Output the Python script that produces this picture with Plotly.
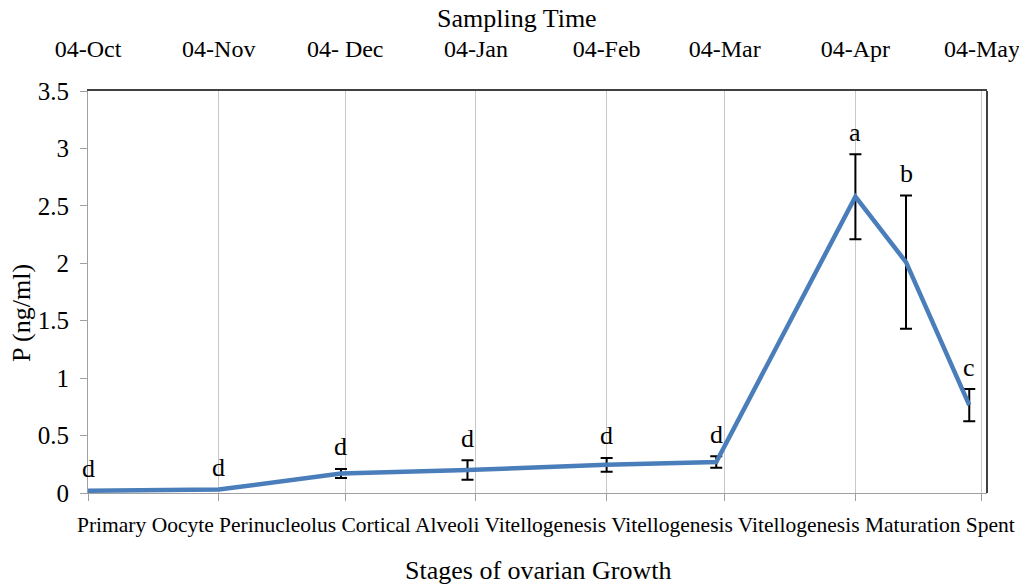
import plotly.graph_objects as go

# ---- data ----
sample_dates = ['2010-10-04', '2010-11-04', '2010-12-03', '2011-01-02', '2011-02-04',
                '2011-03-02', '2011-04-04', '2011-04-16', '2011-05-01']
p_values = [0.02, 0.03, 0.17, 0.20, 0.245, 0.27, 2.58, 2.01, 0.765]
p_errors = [0.005, 0.0, 0.04, 0.085, 0.06, 0.05, 0.37, 0.58, 0.14]
sig_letters = ['d', 'd', 'd', 'd', 'd', 'd', 'a', 'b', 'c']

month_ticks = ['2010-10-04', '2010-11-04', '2010-12-04', '2011-01-04', '2011-02-04',
               '2011-03-04', '2011-04-04', '2011-05-04']
month_labels = ['04-Oct', '04-Nov', '04- Dec', '04-Jan', '04-Feb', '04-Mar', '04-Apr', '04-May']
stage_labels = ['Primary Oocyte', 'Perinucleolus', 'Cortical Alveoli', 'Vitellogenesis',
                'Vitellogenesis', 'Vitellogenesis', 'Maturation', 'Spent']

FONT = 'Liberation Serif, Times New Roman, serif'
x_range = ['2010-10-04', '2011-05-05 05:00']

fig = go.Figure()
fig.add_trace(go.Scatter(
    x=sample_dates, y=p_values, mode='lines',
    line=dict(color='#4a7ebb', width=4.5),
    error_y=dict(type='data', array=p_errors, visible=True, color='black',
                 thickness=2, width=6),
    showlegend=False, hoverinfo='x+y'))
# invisible trace so the top date axis is drawn
fig.add_trace(go.Scatter(
    x=sample_dates, y=p_values, mode='markers', xaxis='x2',
    marker=dict(opacity=0), showlegend=False, hoverinfo='skip'))

# significance letters above error bars
for d, v, e, s in zip(sample_dates, p_values, p_errors, sig_letters):
    fig.add_annotation(x=d, y=v + e, text=s, showarrow=False, yshift=22,
                       xanchor='center', yanchor='middle',
                       font=dict(family=FONT, size=26, color='black'))

# axis titles and stage labels
fig.add_annotation(xref='paper', yref='paper', x=0.477, y=1, yshift=73,
                   xanchor='center', yanchor='middle',
                   text='Sampling Time', showarrow=False,
                   font=dict(family=FONT, size=26, color='black'))
fig.add_annotation(xref='paper', yref='paper', x=0.5, y=0, yshift=-77,
                   xanchor='center', yanchor='middle',
                   text='Stages of ovarian Growth', showarrow=False,
                   font=dict(family=FONT, size=26, color='black'))
fig.add_annotation(xref='paper', yref='paper', x=0, xshift=-66, y=0.448,
                   xanchor='center', yanchor='middle',
                   text='P (ng/ml)', textangle=-90, showarrow=False,
                   font=dict(family=FONT, size=26, color='black'))
fig.add_annotation(xref='paper', yref='paper', x=0.5095, y=0, yshift=-32,
                   xanchor='center', yanchor='middle',
                   text=' '.join(stage_labels), showarrow=False,
                   font=dict(family=FONT, size=21.5, color='black'))

# right border
fig.add_shape(type='line', xref='paper', yref='paper', x0=1, x1=1, y0=0, y1=1,
              line=dict(color='black', width=1.5))

fig.update_layout(
    width=1019, height=586,
    margin=dict(l=88, r=32, t=91, b=93),
    paper_bgcolor='white', plot_bgcolor='white',
    font=dict(family=FONT, color='black'),
    xaxis=dict(type='date', range=x_range, tickvals=month_ticks, showticklabels=False,
               showgrid=True, gridcolor='#c8c8c8', gridwidth=1,
               ticks='outside', ticklen=7, tickcolor='#a0a0a0',
               showline=True, linecolor='#a0a0a0', linewidth=1.2, zeroline=False),
    xaxis2=dict(type='date', overlaying='x', side='top', range=x_range,
                tickvals=month_ticks, ticktext=month_labels,
                tickfont=dict(family=FONT, size=24, color='black'),
                ticks='', showgrid=False, ticklabelstandoff=23,
                ticklabeloverflow='allow', automargin=False,
                showline=True, linecolor='#404040', linewidth=1.5, zeroline=False),
    yaxis=dict(range=[0, 3.5], dtick=0.5, showgrid=False, zeroline=False,
               tickfont=dict(family=FONT, size=25, color='black'),
               ticks='outside', ticklen=7, tickcolor='#a0a0a0', ticklabelstandoff=6,
               automargin=False,
               showline=True, linecolor='#a0a0a0', linewidth=1.2),
)

# remove the default page margin so the 1019x586 figure fills the window exactly
fig.write_html('out.html', config={'displayModeBar': False},
               post_script="document.body.style.margin='0';document.body.style.overflow='hidden';")
